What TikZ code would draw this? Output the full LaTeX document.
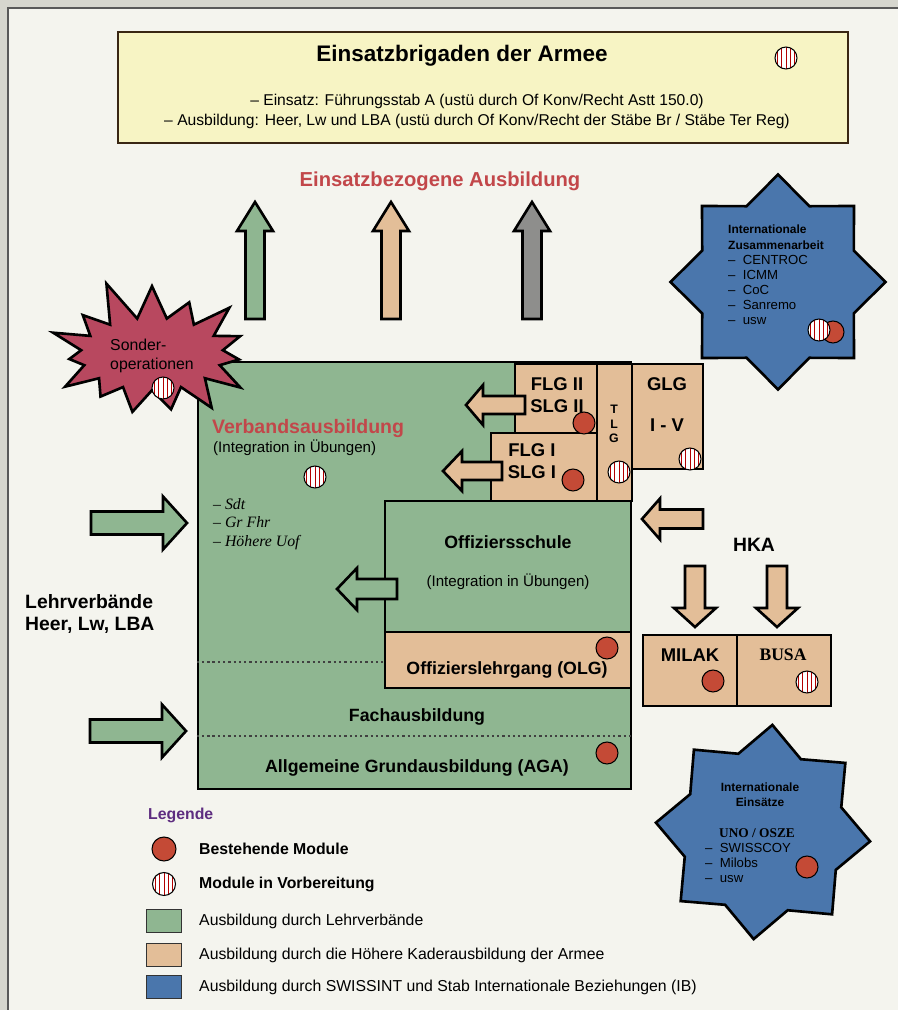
\documentclass[tikz,border=0pt]{standalone}
\usepackage{fontspec}
\setmainfont{Liberation Sans}
\newfontfamily\seriffont{Liberation Serif}
\usetikzlibrary{positioning, shapes.geometric, shapes.symbols, fit}
\definecolor{lvgreen}{HTML}{8FB691}
\definecolor{hkatan}{HTML}{E3BE98}
\definecolor{ibblue}{HTML}{4A76AC}
\definecolor{dotred}{HTML}{C44A36}
\definecolor{burstred}{HTML}{B8485F}
\definecolor{headred}{HTML}{C2474A}
\definecolor{brigyellow}{HTML}{F7F4C4}
\definecolor{legpurple}{HTML}{5E2D80}
\definecolor{paper}{HTML}{F4F4EE}
\definecolor{mattgrey}{HTML}{D6D6CE}
\definecolor{arrowgrey}{HTML}{8E8E8C}
\tikzstyle{lvbox}=[%
      rectangle, draw=black, line width=1.5pt, fill=lvgreen, inner sep=0pt
]
\tikzstyle{hkabox}=[%
      rectangle, draw=black, line width=1.5pt, fill=hkatan, inner sep=0pt
]
\tikzstyle{done}=[%
      circle, draw=black, line width=0.6pt, fill=dotred, minimum size=0.44cm, inner sep=0pt
]
\tikzstyle{plan}=[%
      circle, draw=black, line width=0.6pt, fill=white, minimum size=0.44cm, inner sep=0pt,
      path picture={\foreach \k in {-2,...,2} \draw[red!70!black, line width=0.45pt]
        ([xshift=\k*0.085cm]path picture bounding box.north) -- ([xshift=\k*0.085cm]path picture bounding box.south);}
]
\tikzstyle{intstar}=[%
      star, star points=8, star point ratio=1.31, draw=black, line width=1.5pt, fill=ibblue,
      minimum size=4.3cm, inner sep=0pt
]
\tikzstyle{keybox}=[%
      rectangle, draw=black!80, line width=0.8pt, minimum width=0.7cm, minimum height=0.47cm, inner sep=0pt
]
\tikzstyle{layerline}=[draw=black!75, line width=1.3pt, dash pattern=on 1.3pt off 1.7pt]
\tikzstyle{blockline}=[draw=black, line width=1.5pt, line join=miter]
\tikzstyle{bigtext}=[font=\fontsize{12.8}{15}\selectfont\bfseries]
\tikzstyle{headtext}=[font=\fontsize{11.5}{14}\selectfont\bfseries, text=headred]
\tikzstyle{boxtext}=[font=\fontsize{10.1}{12}\selectfont\bfseries]
\tikzstyle{flgtext}=[font=\fontsize{10.5}{12.4}\selectfont\bfseries, align=center]
\tikzstyle{smalltext}=[font=\fontsize{8.6}{11.4}\selectfont]
\tikzstyle{lvtext}=[font=\fontsize{11}{12.6}\selectfont\bfseries, align=left]
\tikzstyle{starhead}=[font=\fontsize{6.8}{8.5}\selectfont\bfseries]
\tikzstyle{startext}=[font=\fontsize{7.5}{8.6}\selectfont, align=left]
\tikzstyle{legtext}=[font=\fontsize{9}{11}\selectfont, anchor=west]
\newcommand\blockarrow[7]{% fill, tip, direction, length, half shaft, half head, head length
  \draw[blockline, fill=#1, shift={#2}, rotate=#3]
    (0,0) -- (-#7,#6) -- (-#7,#5) -- (-#4,#5) -- (-#4,-#5) -- (-#7,-#5) -- (-#7,-#6) -- cycle;}

\begin{document}
\begin{tikzpicture}[x=0.02cm, y=-0.02cm]
  \useasboundingbox (0,0) rectangle (898,1010);
  \clip (0,0) rectangle (898,1010);
  \fill[mattgrey] (0,0) rectangle (898,1010);
  \draw[draw=black!65, fill=paper, line width=0.7pt] (8,8) rectangle (930,1040);

  % Einsatzbrigaden
  \node[rectangle, draw=black!70!brown, line width=0.8pt, fill=brigyellow, inner sep=0pt,
        fit={(118,32) (848,143)}] (brig) {};
  \node[bigtext] (brigtitle) at (462,56) {Einsatzbrigaden der Armee};
  \node[plan] (brigplan) at (786,58) {};
  \node[smalltext, font=\fontsize{8.9}{11.4}\selectfont, align=center] (brigtext) at (477,111)
       {– Einsatz: Führungsstab A (ustü durch Of Konv/Recht Astt 150.0)\\
        – Ausbildung: Heer, Lw und LBA (ustü durch Of Konv/Recht der Stäbe Br / Stäbe Ter Reg)};

  \node[headtext] (einsatz) at (440,181) {Einsatzbezogene Ausbildung};
  \blockarrow{lvgreen}{(255,202)}{90}{117}{9.5}{18}{29}
  \blockarrow{hkatan}{(391,202)}{90}{117}{9.5}{18}{29}
  \blockarrow{arrowgrey}{(532,202)}{90}{117}{9.5}{18}{29}

  % Lehrverbaende
  \node[lvbox, fit={(198,362) (631,789)}] (verband) {};
  \node[lvbox, fit={(385,501) (631,632)}] (os) {};
  \node[hkabox, fit={(385,632) (631,688)}] (olg) {};
  \draw[layerline] (verband.west |- 0,662) -- (olg.west |- 0,662);
  \draw[layerline] (verband.west |- 0,736) -- (verband.east |- 0,736);

  % HKA Lehrgaenge
  \node[hkabox, fit={(515,364) (597,433)}] (flg2) {};
  \node[hkabox, fit={(491,433) (597,501)}] (flg1) {};
  \node[hkabox, fit={(597,364) (632,501)}] (tlg) {};
  \node[hkabox, fit={(632,364) (703,469)}] (glg) {};

  \blockarrow{hkatan}{(466,405)}{180}{59}{9}{20}{17}
  \blockarrow{hkatan}{(443,471)}{180}{59}{9}{20}{19}
  \blockarrow{lvgreen}{(337,589)}{180}{60}{10}{21}{20}
  \blockarrow{hkatan}{(642,519)}{180}{61}{9.5}{20.5}{18}
  \blockarrow{hkatan}{(695,627)}{-90}{61}{10}{21}{19}
  \blockarrow{hkatan}{(777,627)}{-90}{61}{10}{21}{19}
  \blockarrow{lvgreen}{(187,523)}{0}{96}{11.5}{26.5}{24}
  \blockarrow{lvgreen}{(186,731)}{0}{96}{11.5}{26.5}{24}

  \node[flgtext] (flg2text) at (557,395) {FLG II\\SLG II};
  \node[done] (flg2dot) at (584,423) {};
  \node[flgtext] (flg1text) at (532,461) {FLG I\\SLG I};
  \node[done] (flg1dot) at (573,480) {};
  \node[font=\fontsize{7}{8.4}\selectfont\bfseries, align=center] (tlgtext) at (614,424) {T\\L\\G};
  \node[plan] (tlgplan) at (619,472) {};
  \node[flgtext] (glgtext) at (667,384) {GLG};
  \node[flgtext] (glgnum) at (667,425) {I - V};
  \node[plan] (glgplan) at (690,459) {};

  \node[boxtext] (ostitle) at (508,542) {Offiziersschule};
  \node[smalltext] (osint) at (508,582) {(Integration in Übungen)};
  \node[boxtext] (olgtext) at (507,670) {Offizierslehrgang (OLG)};
  \node[done] (olgdot) at (607,648) {};
  \node[boxtext] (fach) at (417,717) {Fachausbildung};
  \node[boxtext] (aga) at (417,768) {Allgemeine Grundausbildung (AGA)};
  \node[done] (agadot) at (607,753) {};

  \node[headtext, font=\fontsize{11.1}{13}\selectfont\bfseries, anchor=west] (vatitle) at (206,428) {Verbandsausbildung};
  \node[smalltext, anchor=west] (vaint) at (207,448) {(Integration in Übungen)};
  \node[plan] (vaplan) at (315,477) {};
  \node[font=\seriffont\itshape\fontsize{9}{10.5}\selectfont, align=left, anchor=west] (vastufen) at (207,524)
       {– Sdt\\– Gr Fhr\\– Höhere Uof};

  \node[lvtext, anchor=west] (lvname) at (19,614) {Lehrverbände\\Heer, Lw, LBA};

  % Sonderoperationen
  \node[starburst, starburst points=15, starburst point height=0.85cm, random starburst=11,
        draw=black, line width=1.5pt, fill=burstred, minimum width=4.55cm, minimum height=3.15cm] (sonder) at (152,354) {};
  \node[smalltext, font=\fontsize{9}{10.4}\selectfont, align=left, anchor=west] (sondertext) at (104,356) {Sonder-\\operationen};
  \node[plan] (sonderplan) at (163,388) {};

  % HKA
  \node[lvtext] (hka) at (754,545) {HKA};
  \node[hkabox, fit={(643,635) (737,706)}] (milak) {};
  \node[hkabox, fit={(737,635) (831,706)}] (busa) {};
  \node[flgtext, font=\fontsize{10.5}{12}\selectfont\bfseries] (milaktext) at (690,655) {MILAK};
  \node[font=\seriffont\bfseries\fontsize{10}{12}\selectfont] (busatext) at (783,655) {BUSA};
  \node[done] (milakdot) at (713,681) {};
  \node[plan] (busaplan) at (807,682) {};

  % Internationale Zusammenarbeit
  \node[intstar] (zusammen) at (778,282) {};
  \node[startext, anchor=west] (zustext) at (722,275)
       {{\bfseries\fontsize{6.8}{8.6}\selectfont Internationale}\\
        {\bfseries\fontsize{6.8}{8.6}\selectfont Zusammenarbeit}\\
        –\ \ CENTROC\\–\ \ ICMM\\–\ \ CoC\\–\ \ Sanremo\\–\ \ usw};
  \node[done] (zusdot) at (833,332) {};
  \node[plan] (zusplan) at (819,330) {};

  % Internationale Einsaetze
  \node[intstar, rotate=-5] (einsaetze) at (763,832) {};
  \node[starhead, align=center] (eintitle) at (760,795) {Internationale\\Einsätze};
  \node[font=\seriffont\bfseries\fontsize{7.6}{9}\selectfont] (uno) at (757,833) {UNO / OSZE};
  \node[startext, anchor=west] (eintext) at (699,863) {–\ \ SWISSCOY\\–\ \ Milobs\\–\ \ usw};
  \node[done] (eindot) at (807,867) {};

  % Legende
  \node[legtext, font=\fontsize{9}{11}\selectfont\bfseries, text=legpurple] (legende) at (142,815) {Legende};
  \node[done, minimum size=0.48cm] (keydone) at (164,849) {};
  \node[legtext, font=\fontsize{9}{11}\selectfont\bfseries] (keydonetext) at (193,849) {Bestehende Module};
  \node[plan, minimum size=0.46cm] (keyplan) at (164,884) {};
  \node[legtext, font=\fontsize{9}{11}\selectfont\bfseries] (keyplantext) at (193,884) {Module in Vorbereitung};
  \node[keybox, fill=lvgreen] (keylv) at (164,921) {};
  \node[legtext] (keylvtext) at (193,921) {Ausbildung durch Lehrverbände};
  \node[keybox, fill=hkatan] (keyhka) at (164,955) {};
  \node[legtext] (keyhkatext) at (193,955) {Ausbildung durch die Höhere Kaderausbildung der Armee};
  \node[keybox, fill=ibblue] (keyib) at (164,987) {};
  \node[legtext] (keyibtext) at (193,987) {Ausbildung durch SWISSINT und Stab Internationale Beziehungen (IB)};
\end{tikzpicture}
\end{document}
